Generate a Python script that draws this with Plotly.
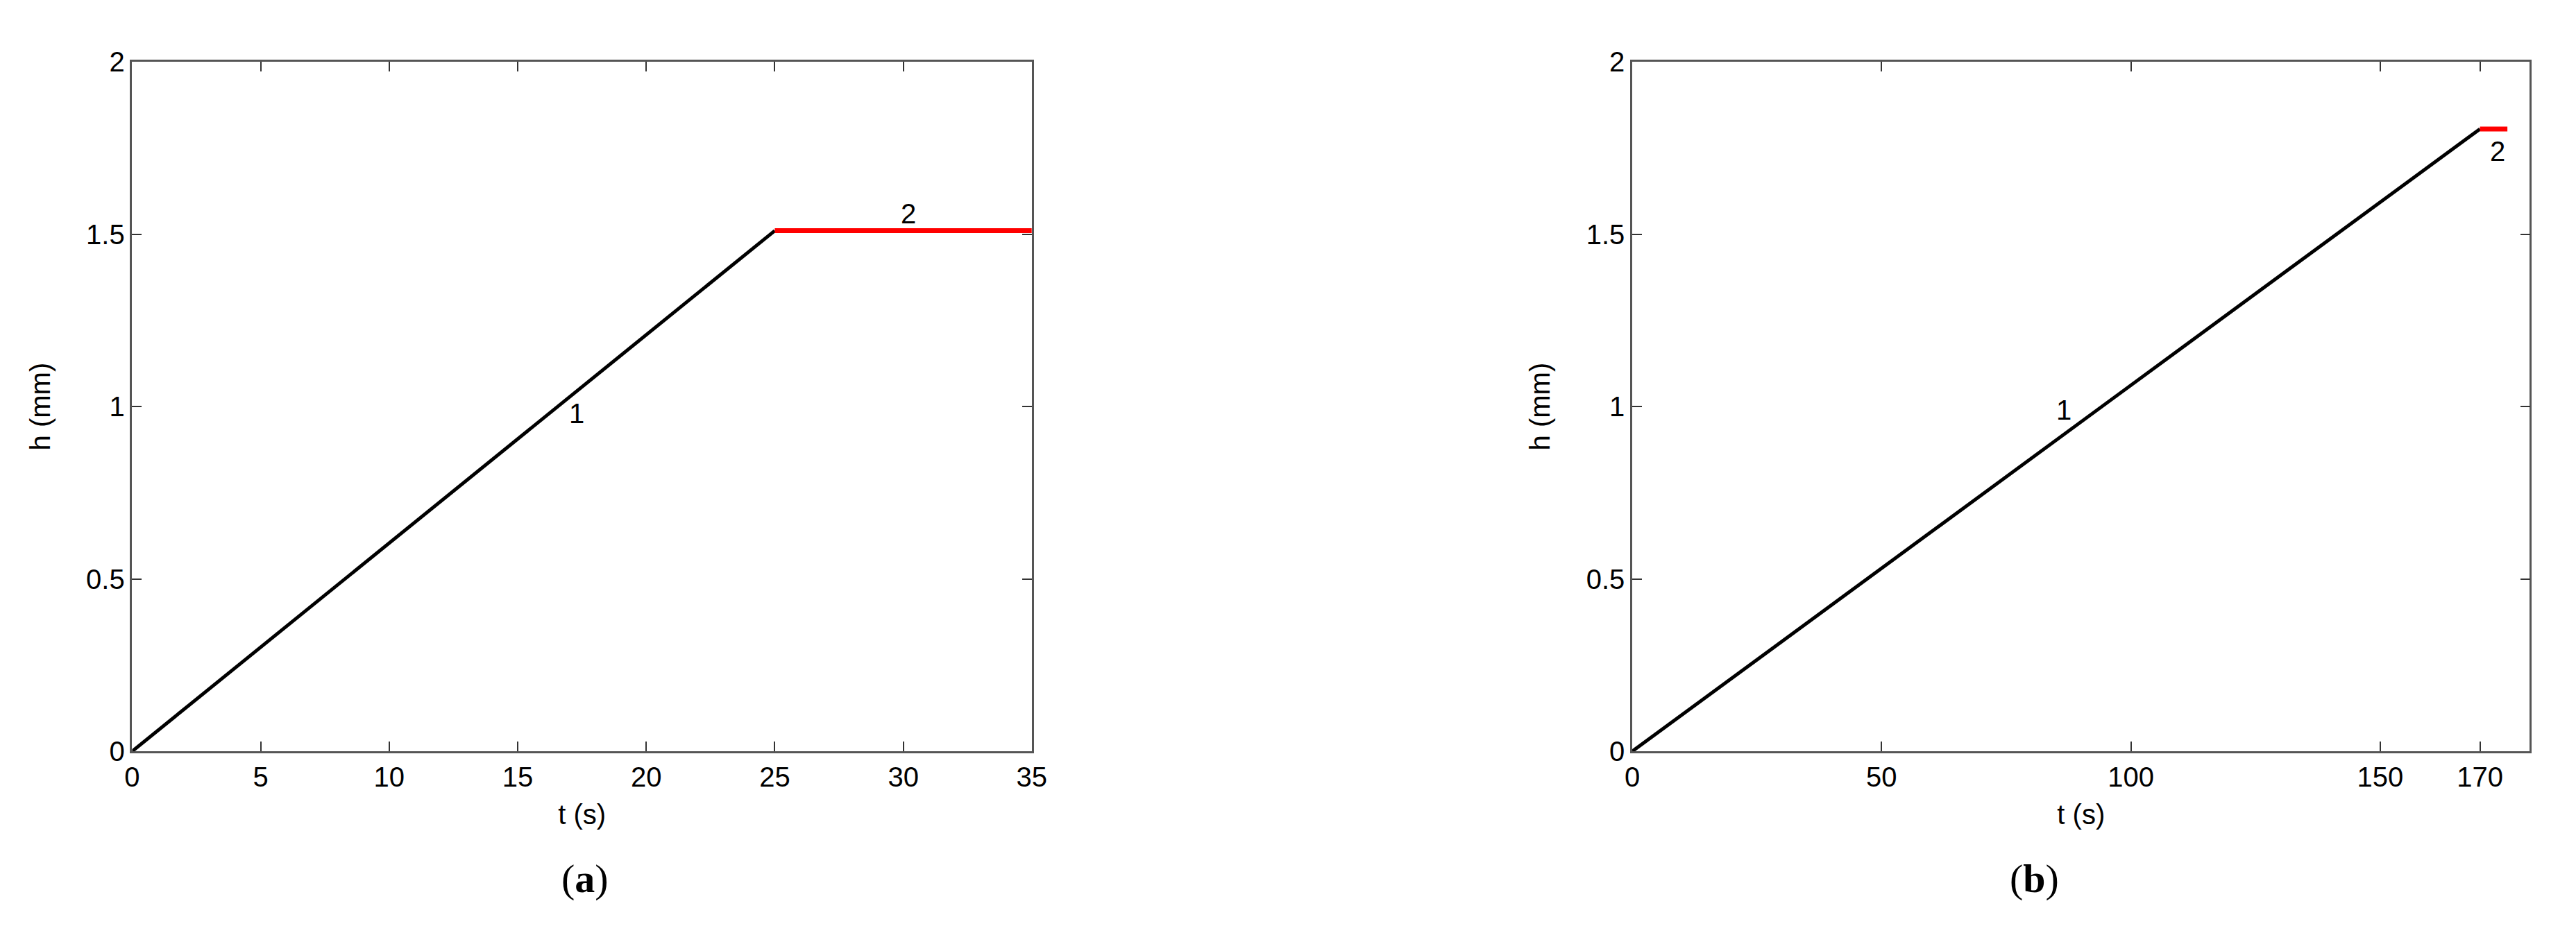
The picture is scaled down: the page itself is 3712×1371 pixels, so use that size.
import plotly.graph_objects as go

# panel (a): thickness h vs time t
t1_a = [0, 25]
h1_a = [0, 1.51]
t2_a = [25, 35]
h2_a = [1.51, 1.51]
lab_a = {"1": (17.3, 0.98), "2": (30.2, 1.56)}

# panel (b)
t1_b = [0, 170]
h1_b = [0, 1.805]
t2_b = [170, 175.5]
h2_b = [1.805, 1.805]
lab_b = {"1": (86.6, 0.99), "2": (173.5, 1.74)}

xticks_a = [0, 5, 10, 15, 20, 25, 30, 35]
xticks_b = [0, 50, 100, 150, 170]
yticks = [0, 0.5, 1, 1.5, 2]
ytick_text = ["0", "0.5", "1", "1.5", "2"]

W, H = 3712, 1371
FONT = "Arial, Liberation Sans, sans-serif"

fig = go.Figure()

fig.add_trace(go.Scatter(x=t1_a, y=h1_a, mode="lines", line=dict(color="black", width=5),
                         xaxis="x", yaxis="y", showlegend=False))
fig.add_trace(go.Scatter(x=t2_a, y=h2_a, mode="lines", line=dict(color="#ff0000", width=7),
                         xaxis="x", yaxis="y", showlegend=False))
fig.add_trace(go.Scatter(x=t1_b, y=h1_b, mode="lines", line=dict(color="black", width=5),
                         xaxis="x2", yaxis="y2", showlegend=False))
fig.add_trace(go.Scatter(x=t2_b, y=h2_b, mode="lines", line=dict(color="#ff0000", width=7),
                         xaxis="x2", yaxis="y2", showlegend=False))

axis_common = dict(
    showgrid=False, zeroline=False, showline=True, linecolor="#555", linewidth=2.5,
    mirror="ticks", ticks="inside", ticklen=14, tickwidth=1.5, tickcolor="#333",
    tickfont=dict(family=FONT, size=40, color="black"),
    title_font=dict(family=FONT, size=40, color="black"),
)

ydom = [1 - 1088 / H, 1 - 61 / H]

fig.update_layout(
    width=W, height=H,
    margin=dict(l=0, r=0, t=0, b=0),
    paper_bgcolor="white", plot_bgcolor="white",
    xaxis=dict(axis_common, domain=[173 / W, 1481 / W], range=[0, 35], tickvals=xticks_a,
               title=dict(text="t (s)", standoff=20), anchor="y"),
    yaxis=dict(axis_common, domain=ydom, range=[0, 2], tickvals=yticks, ticktext=ytick_text,
               title=dict(text="h (mm)", standoff=40), anchor="x"),
    xaxis2=dict(axis_common, domain=[2354 / W, 3659 / W], range=[0, 180], tickvals=xticks_b,
                title=dict(text="t (s)", standoff=20), anchor="y2"),
    yaxis2=dict(axis_common, domain=ydom, range=[0, 2], tickvals=yticks, ticktext=ytick_text,
                title=dict(text="h (mm)", standoff=40), anchor="x2"),
)

for txt, (x, y) in lab_a.items():
    fig.add_annotation(x=x, y=y, xref="x", yref="y", text=txt, showarrow=False,
                       font=dict(family=FONT, size=40, color="black"))
for txt, (x, y) in lab_b.items():
    fig.add_annotation(x=x, y=y, xref="x2", yref="y2", text=txt, showarrow=False,
                       font=dict(family=FONT, size=40, color="black"))

# panel captions
for txt, xc in [("(<b>a</b>)", 795), ("(<b>b</b>)", 2976)]:
    fig.add_annotation(x=xc / W, y=1 - 1313 / H, xref="paper", yref="paper", text=txt,
                       showarrow=False, font=dict(family="Liberation Serif, serif", size=58, color="black"))

fig.write_html("out.html")
